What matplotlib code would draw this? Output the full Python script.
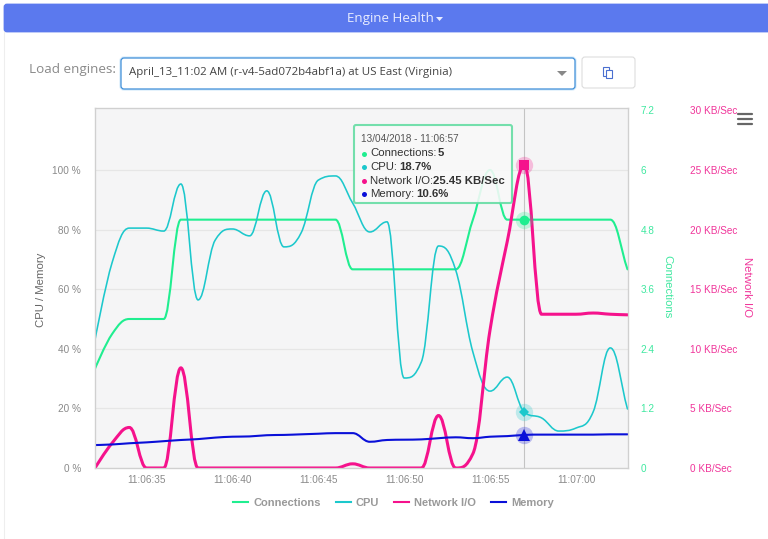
import matplotlib
matplotlib.use('Agg')
import matplotlib.pyplot as plt
from matplotlib.lines import Line2D
from matplotlib.path import Path
from matplotlib.patches import PathPatch, Rectangle, FancyBboxPatch, Polygon

plt.rcParams['font.family'] = ['Liberation Sans', 'DejaVu Sans']

# seconds after 11:06:00
seconds = list(range(32, 64))
connections = [2, 2.7, 3, 3, 3, 5, 5, 5, 5, 5, 5, 5, 5, 5, 5, 4,
               4, 4, 4, 4, 4, 4, 5, 6, 5, 5, 5, 5, 5, 5, 5, 4]
cpu = [43, 69, 80.5, 80.5, 79.5, 95.3, 56.4, 76.5, 80.2, 77.9, 93, 74.2, 78.9, 96.6, 98, 88.9,
       79.2, 82.6, 30.2, 35.6, 74.5, 66.4, 38.9, 25.8, 30.5, 18.7, 16.8, 12.4, 13.4, 18.8, 40.3, 19.8]
network = [0, 2.1, 3.4, 0, 0, 8.4, 0, 0, 0, 0, 0, 0, 0, 0, 0, 0.35,
           0, 0, 0, 0, 4.4, 0, 1.2, 11.6, 19, 25.45, 12.9, 12.9, 12.9, 13, 12.9, 12.85]
memory = [7.7, 7.9, 8.3, 8.6, 9, 9.4, 9.7, 10.2, 10.5, 10.6, 11, 11.1, 11.3, 11.5, 11.7, 11.7,
          8.8, 9.4, 9.5, 9.6, 10, 10.3, 10, 10.5, 10.7, 11.1, 11.2, 11.2, 11.2, 11.2, 11.3, 11.3]

time_ticks = [35, 40, 45, 50, 55, 60]
time_labels = ['11:06:35', '11:06:40', '11:06:45', '11:06:50', '11:06:55', '11:07:00']
pct_ticks = [0, 20, 40, 60, 80, 100]
conn_ticks = [0, 1.2, 2.4, 3.6, 4.8, 6, 7.2]
net_ticks = [0, 5, 10, 15, 20, 25, 30]
hover_sec = 57

GREEN = '#20ee90'
CYAN = '#1cc8cc'
PINK = '#f5128c'
BLUE = '#0a10d8'
GRAY = '#8a8a8a'


def spline_path(xs, ys):
    # same smoothing highcharts uses for its spline series
    verts = [(xs[0], ys[0])]
    right = (xs[0], ys[0])
    for i in range(1, len(xs)):
        x, y = xs[i], ys[i]
        lx = (1.5 * x + xs[i - 1]) / 2.5
        ly = (1.5 * y + ys[i - 1]) / 2.5
        if i < len(xs) - 1:
            rx = (1.5 * x + xs[i + 1]) / 2.5
            ry = (1.5 * y + ys[i + 1]) / 2.5
            fix = (ry - ly) * (rx - x) / (rx - lx) + y - ry
            ly += fix
            ry += fix
            if ly > ys[i - 1] and ly > y:
                ly = max(ys[i - 1], y)
                ry = 2 * y - ly
            elif ly < ys[i - 1] and ly < y:
                ly = min(ys[i - 1], y)
                ry = 2 * y - ly
            if ry > ys[i + 1] and ry > y:
                ry = max(ys[i + 1], y)
                ly = 2 * y - ry
            elif ry < ys[i + 1] and ry < y:
                ry = min(ys[i + 1], y)
                ly = 2 * y - ry
        else:
            rx, ry = x, y
        verts += [right, (lx, ly), (x, y)]
        right = (rx, ry)
    codes = [Path.MOVETO] + [Path.CURVE4] * (len(verts) - 1)
    return Path(verts, codes)


fig = plt.figure(figsize=(7.68, 5.39), dpi=100)

# page around the chart, in pixels
bg = fig.add_axes([0, 0, 1, 1], zorder=0)
bg.set_xlim(0, 768)
bg.set_ylim(539, 0)
bg.axis('off')
bg.add_patch(Rectangle((4, 30), 770, 515, fc='white', ec='#eeeeee', lw=0.8))
bg.add_patch(FancyBboxPatch((5, 5), 770, 26, boxstyle='round,pad=0,rounding_size=2',
                            fc='#5b79ee', ec='#5b79ee', lw=2))
bg.text(390, 18.5, 'Engine Health', color='#e8ecff', fontsize=9.6, family='Open Sans',
        ha='center', va='center')
bg.add_patch(Polygon([(436, 17), (443, 17), (439.5, 21)], fc='#e8ecff', ec='none'))
bg.text(29, 70, 'Load engines:', color='#8a8a8a', fontsize=9.7, family='Open Sans', va='center')
bg.add_patch(FancyBboxPatch((121, 58), 454, 31, boxstyle='round,pad=0,rounding_size=3',
                            fc='white', ec='#d8ecfb', lw=2.4))
bg.add_patch(FancyBboxPatch((121, 58), 454, 31, boxstyle='round,pad=0,rounding_size=3',
                            fc='white', ec='#3f8fd8', lw=0.9))
bg.text(129, 73, 'April_13_11:02 AM (r-v4-5ad072b4abf1a) at US East (Virginia)',
        color='#444444', fontsize=8.27, family='Open Sans', va='center')
bg.add_patch(Polygon([(557, 71), (567, 71), (562, 76)], fc='#888888', ec='none'))
bg.add_patch(FancyBboxPatch((582, 57), 53, 31, boxstyle='round,pad=0,rounding_size=3',
                            fc='white', ec='#dddddd', lw=0.8))
bg.add_patch(Rectangle((603, 67), 6, 9, fc='white', ec='#4a6fd0', lw=0.8))
bg.add_patch(Rectangle((606, 70), 6, 8, fc='white', ec='#4a6fd0', lw=0.8))

# plot area is x 95-628, y 108-468 in the reference
ax = fig.add_axes([95 / 768, 1 - 468 / 539, 533 / 768, 360 / 539], zorder=1)
ax.set_facecolor('#f5f5f6')
ax_conn = ax.twinx()
ax_net = ax.twinx()

for a in (ax, ax_conn, ax_net):
    a.set_xlim(32, 63.03)
    for side in a.spines:
        a.spines[side].set_color('#d0d0d0')
        a.spines[side].set_linewidth(0.8)
ax.set_ylim(0, 120.8)
ax_conn.set_ylim(0, 7.248)
ax_net.set_ylim(0, 30.2)

ax.set_xticks(time_ticks)
ax.set_xticklabels(time_labels)
ax.tick_params(axis='x', length=0, pad=5, labelsize=7.2, labelcolor=GRAY)
ax.set_yticks(pct_ticks)
ax.set_yticklabels(['%d %%' % v for v in pct_ticks])
ax.tick_params(axis='y', length=0, pad=10, labelsize=7.2, labelcolor=GRAY)
ax.grid(axis='y', color='#e6e6e6', lw=0.9)
ax.set_axisbelow(True)

ax_conn.set_yticks(conn_ticks)
ax_conn.set_yticklabels(['%g' % v for v in conn_ticks])
ax_conn.tick_params(axis='y', length=0, pad=9, labelsize=7.2, labelcolor='#3fe8a0')
ax_net.set_yticks(net_ticks)
ax_net.set_yticklabels(['%d KB/Sec' % v for v in net_ticks])
ax_net.tick_params(axis='y', length=0, pad=45, labelsize=7.2, labelcolor='#f0359a')

ax.axvline(hover_sec, color='#c4c4c4', lw=0.8, zorder=1.5)

series = [
    (connections, ax_conn, GREEN, 1.5, 'o', 7),
    (cpu, ax, CYAN, 1.15, 'D', 5),
    (network, ax_net, PINK, 2.2, 's', 7.5),
    (memory, ax, BLUE, 1.5, '^', 8),
]
for values, owner, color, width, marker, size in series:
    ax.add_patch(PathPatch(spline_path(seconds, values), fc='none', ec=color, lw=width,
                           transform=owner.transData, zorder=3, capstyle='round'))
    hover_val = values[seconds.index(hover_sec)]
    ax.plot([hover_sec], [hover_val], marker='o', ms=12.5, color=color, alpha=0.25, mew=0,
            transform=owner.transData, zorder=4, clip_on=False)
    ax.plot([hover_sec], [hover_val], marker=marker, ms=size, color=color, mew=0,
            transform=owner.transData, zorder=5, clip_on=False)

ax.set_xlim(32, 63.03)
ax.set_ylim(0, 120.8)

# overlay for tooltip, axis titles and menu icon
fg = fig.add_axes([0, 0, 1, 1], zorder=5)
fg.set_xlim(0, 768)
fg.set_ylim(539, 0)
fg.axis('off')
fg.patch.set_alpha(0)

fg.text(40.5, 290, 'CPU / Memory', rotation=90, color='#666666', fontsize=8.2, ha='center', va='center')
fg.text(667, 287, 'Connections', rotation=270, color='#3fe8a0', fontsize=8.2, ha='center', va='center')
fg.text(747, 287, 'Network I/O', rotation=270, color='#f0359a', fontsize=8.2, ha='center', va='center')

for y in (114, 119, 124):
    fg.plot([738, 752], [y, y], color='#666666', lw=1.6, solid_capstyle='round')

fg.add_patch(FancyBboxPatch((354, 125), 158, 78, boxstyle='round,pad=0,rounding_size=2',
                            fc='#f9f9f9', ec='#62dca2', lw=1.5, alpha=0.88))
fg.text(361, 139, '13/04/2018 - 11:06:57', color='#555555', fontsize=7.2, va='center')
tooltip_rows = [
    (153.5, GREEN, 'Connections:', '5', 438),
    (167, CYAN, 'CPU:', '18.7%', 399),
    (180.5, PINK, 'Network I/O:', '25.45 KB/Sec', 433),
    (194, BLUE, 'Memory:', '10.6%', 416),
]
for y, color, name, value, value_x in tooltip_rows:
    fg.plot([364], [y], marker='o', ms=3.6, color=color, mew=0)
    fg.text(370, y, name, color='#333333', fontsize=8.2, va='center')
    fg.text(value_x, y, value, color='#333333', fontsize=8.2, fontweight='bold', va='center')

handles = [Line2D([], [], color=s[2], lw=1.5) for s in series]
fig.legend(handles, ['Connections', 'CPU', 'Network I/O', 'Memory'], ncol=4, frameon=False,
           loc='center', bbox_to_anchor=(393.5 / 768, 1 - 502.5 / 539), labelcolor='#999999',
           prop={'family': 'Liberation Sans', 'weight': 'bold', 'size': 8},
           handlelength=1.35, handletextpad=0.45, columnspacing=1.35)

fig.savefig('out.png', dpi=100)
